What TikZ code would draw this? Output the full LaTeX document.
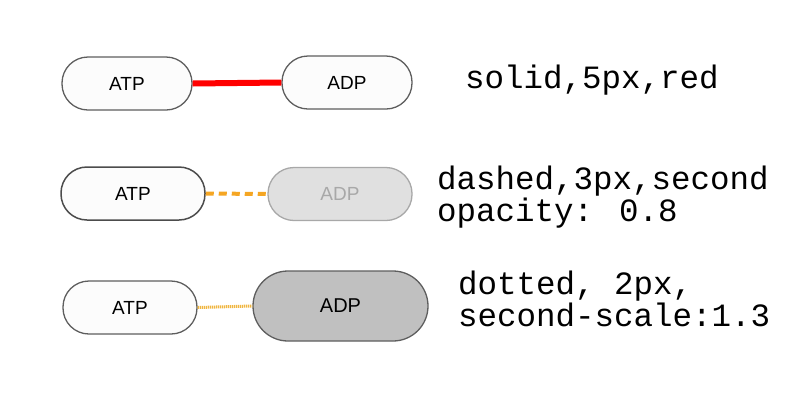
\documentclass[tikz,border=0pt]{standalone}
\usepackage{fontspec}
\setmainfont{Liberation Sans}
\newfontfamily\monof{Liberation Mono}
\definecolor{nodeborder}{HTML}{5E5E5E}
\definecolor{nodefill}{HTML}{FCFCFC}
\definecolor{fadefill}{HTML}{E0E0E0}
\definecolor{fadeborder}{HTML}{A8A8A8}
\definecolor{bigfill}{HTML}{C0C0C0}
\definecolor{orangeline}{HTML}{F5A623}
\definecolor{dotline}{HTML}{F0B640}
\begin{document}
\begin{tikzpicture}[x=1pt,y=-1pt,
  pill/.style={draw=nodeborder, fill=nodefill, line width=1.3pt, minimum width=#1, minimum height=53pt,
    rounded corners=26pt, inner sep=0pt, font=\fontsize{19}{21}\selectfont},
  pill/.default=130pt,
  lbl/.style={anchor=base west, inner sep=0pt, align=left, font=\monof\fontsize{32.5}{31.5}\selectfont}]
\useasboundingbox (0,0) rectangle (800,400);
% row 1
\node[pill] (atp1) at (127,83.5) {ATP};
\node[pill] (adp1) at (347,82.5) {ADP};
\draw[red, line width=6pt] (atp1.east) -- (adp1.west);
\node[lbl] (t1) at (465,88) {solid,5px,red};
% row 2
\node[pill=144pt, line width=1.5pt, draw=black!70] (atp2) at (133,193.5) {ATP};
\node[pill=144pt, fill=fadefill, draw=fadeborder, text=fadeborder] (adp2) at (340,194) {ADP};
\draw[orangeline, line width=4pt, dash pattern=on 8pt off 5pt] (atp2.east) -- (adp2.west);
\node[lbl] (t2) at (437,221) {dashed,3px,second\\opacity: 0.8};
% row 3
\node[pill=134pt] (atp3) at (130,307.5) {ATP};
\node[pill=175pt, minimum height=70pt, rounded corners=35pt, fill=bigfill, font=\fontsize{20}{22}\selectfont] (adp3) at (340.5,306) {ADP};
\draw[dotline, line width=3pt, dash pattern=on 1.2pt off 0.8pt] (atp3.east) -- (adp3.west);
\node[lbl] (t3) at (458,326) {dotted, 2px,\\second-scale:1.3};
\end{tikzpicture}
\end{document}
